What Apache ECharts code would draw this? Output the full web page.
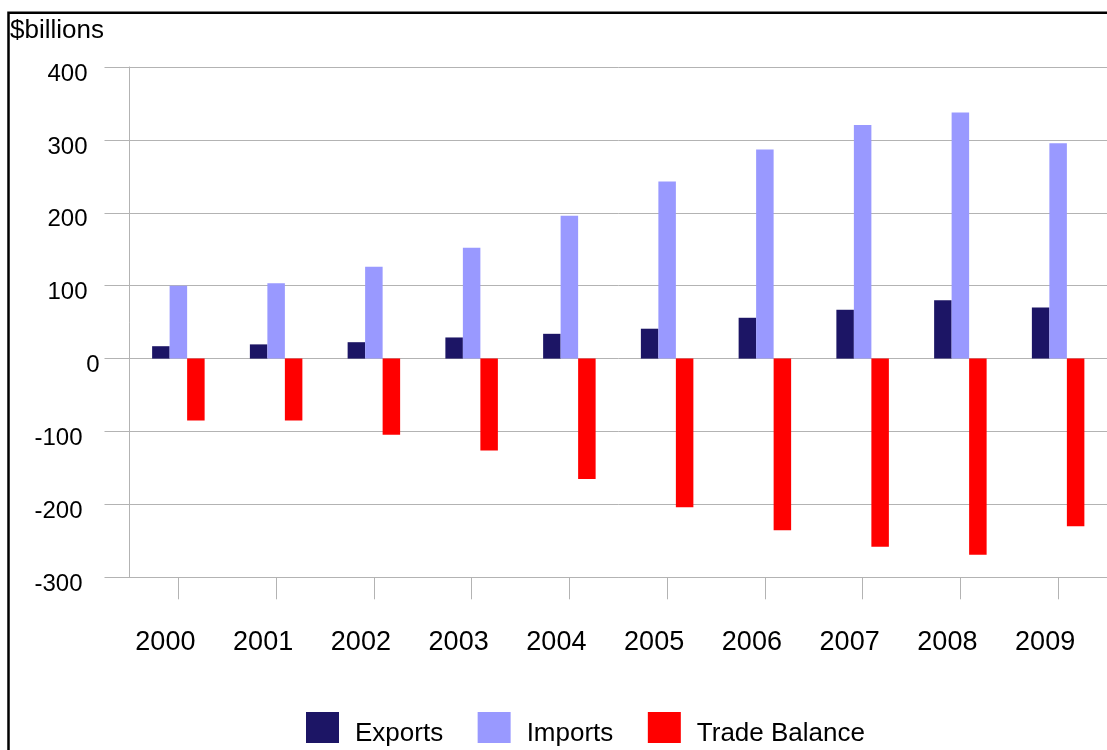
<!DOCTYPE html>
<html>
<head>
<meta charset="utf-8">
<script src="https://cdn.jsdelivr.net/npm/echarts@6/dist/echarts.min.js"></script>
<style>html,body{margin:0;padding:0;background:#fff}#c{width:1107px;height:750px}</style>
</head>
<body>
<div id="c"></div>
<script>
var categories = ['2000','2001','2002','2003','2004','2005','2006','2007','2008','2009'];
var exportsData = [17, 19.5, 22.5, 29, 34, 41, 56, 67, 80, 70];
var importsData = [100, 103.5, 126, 152, 196, 243, 287, 320.5, 337.5, 295.5];
var tradeBalance = [-85, -85, -104.5, -126, -165, -204, -235.5, -258, -269, -230];
var yTicks = {min: -300, max: 400, interval: 100};
var unitLabel = '$billions';
var seriesNames = ['Exports', 'Imports', 'Trade Balance'];

var chart = echarts.init(document.getElementById('c'));
var gridColor = '#b3b3b3';
var sans = '"Liberation Sans", Arial, sans-serif';
chart.setOption({
  animation: false,
  title: {
    text: unitLabel, left: 10, top: 18, padding: 0,
    textStyle: {fontFamily: sans, fontSize: 26, fontWeight: 'normal', color: '#000'}
  },
  graphic: [{
    type: 'rect', silent: true,
    shape: {x: 8.5, y: 12.8, width: 1300, height: 900},
    style: {fill: 'none', stroke: '#000', lineWidth: 2.5}
  }],
  legend: {
    left: 306, top: 712, itemWidth: 33, itemHeight: 31, itemGap: 34.5,
    icon: 'rect', padding: 0,
    formatter: function (name) { return '{t|' + name + '}'; },
    textStyle: {
      fontFamily: sans, fontSize: 26, color: '#000',
      rich: {t: {fontFamily: sans, fontSize: 26, color: '#000', padding: [12, 0, 0, 11]}}
    },
    data: seriesNames
  },
  grid: {left: 129.5, width: 988, top: 67, height: 510.3, containLabel: false},
  xAxis: [{
    type: 'category', data: categories, position: 'bottom',
    axisLine: {show: true, onZero: false, lineStyle: {color: gridColor}},
    axisTick: {show: true, alignWithLabel: true, interval: 0, length: 22, lineStyle: {color: gridColor}},
    axisLabel: {
      margin: 52, fontFamily: sans, fontSize: 27, color: '#000', interval: 0,
      formatter: function (v) { return '{a|' + v + '}'; },
      rich: {a: {fontFamily: sans, fontSize: 27, color: '#000', padding: [0, 26, 0, 0]}}
    }
  }],
  yAxis: {
    type: 'value', min: yTicks.min, max: yTicks.max, interval: yTicks.interval,
    axisLine: {show: true, lineStyle: {color: gridColor}},
    axisTick: {show: true, length: 25, lineStyle: {color: gridColor}},
    splitLine: {lineStyle: {color: gridColor}},
    axisLabel: {
      margin: 30, color: '#000',
      fontFamily: sans, fontSize: 24,
      formatter: function (v) {
        if (v === 0) return '{z|0}';
        if (v < 0) return '{n|' + v + '}';
        return '{p|' + v + '}';
      },
      rich: {
        z: {fontSize: 24, fontFamily: sans, color: '#000', padding: [14, 0, 0, 0]},
        p: {fontSize: 24, fontFamily: sans, color: '#000', padding: [14, 12, 0, 0]},
        n: {fontSize: 24, fontFamily: sans, color: '#000', padding: [14, 17, 0, 0]}
      }
    }
  },
  series: [
    {name: seriesNames[0], type: 'bar', data: exportsData, barWidth: 17.5, barGap: '0%', itemStyle: {color: '#1c1565'}},
    {name: seriesNames[1], type: 'bar', data: importsData, barWidth: 17.5, barGap: '0%', itemStyle: {color: '#9999ff'}},
    {name: seriesNames[2], type: 'bar', data: tradeBalance, barWidth: 17.5, barGap: '0%', itemStyle: {color: '#ff0000'}}
  ]
});
</script>
</body>
</html>
